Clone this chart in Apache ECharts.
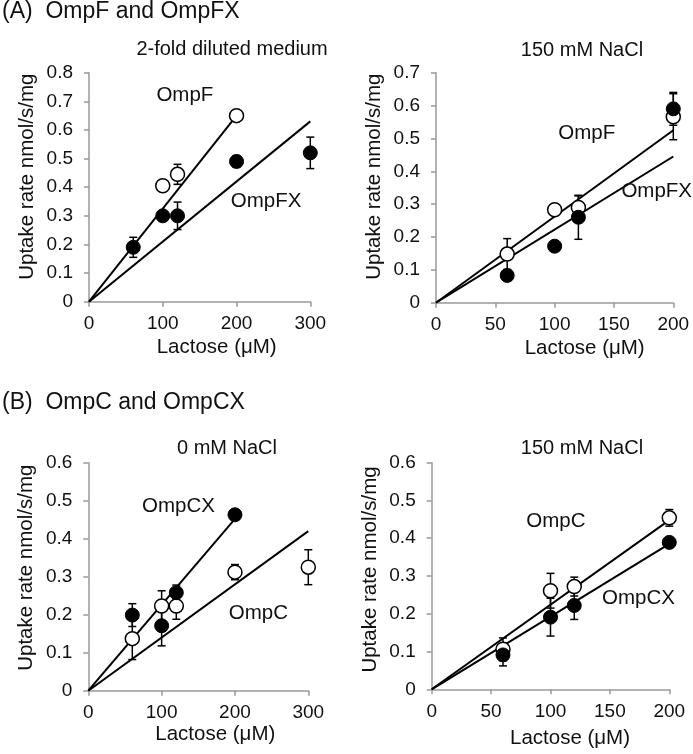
<!DOCTYPE html>
<html>
<head>
<meta charset="utf-8">
<script src="https://cdn.jsdelivr.net/npm/echarts@6/dist/echarts.min.js"></script>
<style>
  html, body { margin: 0; padding: 0; background: #fff; }
  #chart { width: 693px; height: 754px; }
</style>
</head>
<body>
<div id="chart"></div>
<script>
// ---------- DATA ----------
// Panel A1: OmpF and OmpFX, 2-fold diluted medium
const A1_OmpF_x   = [100, 120, 200];
const A1_OmpF_y   = [0.405, 0.445, 0.65];
const A1_OmpF_err = [0, 0.035, 0];
const A1_OmpFX_x   = [60, 100, 120, 200, 300];
const A1_OmpFX_y   = [0.19, 0.30, 0.30, 0.49, 0.52];
const A1_OmpFX_err = [0.035, 0, 0.048, 0.02, 0.055];
const A1_OmpF_fit  = [[0, 0], [200, 0.65]];
const A1_OmpFX_fit = [[0, 0], [300, 0.63]];

// Panel A2: OmpF and OmpFX, 150 mM NaCl
const A2_OmpF_x   = [60, 100, 120, 200];
const A2_OmpF_y   = [0.148, 0.283, 0.29, 0.566];
const A2_OmpF_err = [0.047, 0, 0.035, 0.07];
const A2_OmpFX_x   = [60, 100, 120, 200];
const A2_OmpFX_y   = [0.083, 0.172, 0.26, 0.59];
const A2_OmpFX_err = [0, 0, 0.067, 0.05];
const A2_OmpF_fit  = [[0, 0], [200, 0.525]];
const A2_OmpFX_fit = [[0, 0], [200, 0.445]];

// Panel B1: OmpC and OmpCX, 0 mM NaCl
const B1_OmpC_x   = [60, 100, 120, 200, 300];
const B1_OmpC_y   = [0.137, 0.223, 0.223, 0.312, 0.325];
const B1_OmpC_err = [0.055, 0.04, 0.035, 0.02, 0.046];
const B1_OmpCX_x   = [60, 100, 120, 200];
const B1_OmpCX_y   = [0.199, 0.171, 0.258, 0.463];
const B1_OmpCX_err = [0.03, 0.053, 0.02, 0];
const B1_OmpCX_fit = [[0, 0], [200, 0.452]];
const B1_OmpC_fit  = [[0, 0], [300, 0.42]];

// Panel B2: OmpC and OmpCX, 150 mM NaCl
const B2_OmpC_x   = [60, 100, 120, 200];
const B2_OmpC_y   = [0.106, 0.261, 0.272, 0.454];
const B2_OmpC_err = [0.03, 0.046, 0.025, 0.022];
const B2_OmpCX_x   = [60, 100, 120, 200];
const B2_OmpCX_y   = [0.091, 0.191, 0.222, 0.389];
const B2_OmpCX_err = [0.029, 0.05, 0.037, 0.01];
const B2_OmpC_fit  = [[0, 0], [200, 0.448]];
const B2_OmpCX_fit = [[0, 0], [200, 0.385]];

// Axis ranges / ticks
const xMax = [300, 200, 300, 200];
const xInterval = [100, 50, 100, 50];
const yMax = [0.8, 0.7, 0.6, 0.6];
const yInterval = [0.1, 0.1, 0.1, 0.1];

// Text
const panelTitles = ['(A)  OmpF and OmpFX', '(B)  OmpC and OmpCX'];
const subTitles = ['2-fold diluted medium', '150 mM NaCl', '0 mM NaCl', '150 mM NaCl'];
const xName = 'Lactose (\u03BCM)';
const yName = 'Uptake rate nmol/s/mg';
// curve annotations [text, x, y] in data units
const A1_notes = [['OmpF', 130, 0.72], ['OmpFX', 240, 0.35]];
const A2_notes = [['OmpF', 127, 0.515], ['OmpFX', 186, 0.34]];
const B1_notes = [['OmpCX', 123, 0.484], ['OmpC', 232, 0.204]];
const B2_notes = [['OmpC', 104.6, 0.444], ['OmpCX', 174, 0.241]];

// ---------- BUILD ----------
const FONT = '"Liberation Sans", Arial, sans-serif';
const zip = (xs, ys) => xs.map((x, i) => [x, ys[i]]);
const zipErr = (xs, ys, es) => xs.map((x, i) => [x, ys[i] - es[i], ys[i] + es[i]]).filter((d, i) => es[i] > 0);

const panels = [
  { open: [A1_OmpF_x, A1_OmpF_y, A1_OmpF_err], filled: [A1_OmpFX_x, A1_OmpFX_y, A1_OmpFX_err], fits: [A1_OmpF_fit, A1_OmpFX_fit], notes: A1_notes },
  { open: [A2_OmpF_x, A2_OmpF_y, A2_OmpF_err], filled: [A2_OmpFX_x, A2_OmpFX_y, A2_OmpFX_err], fits: [A2_OmpF_fit, A2_OmpFX_fit], notes: A2_notes },
  { open: [B1_OmpC_x, B1_OmpC_y, B1_OmpC_err], filled: [B1_OmpCX_x, B1_OmpCX_y, B1_OmpCX_err], fits: [B1_OmpCX_fit, B1_OmpC_fit], notes: B1_notes },
  { open: [B2_OmpC_x, B2_OmpC_y, B2_OmpC_err], filled: [B2_OmpCX_x, B2_OmpCX_y, B2_OmpCX_err], fits: [B2_OmpC_fit, B2_OmpCX_fit], notes: B2_notes }
];

const grids = [
  { left: 89, top: 72.7, width: 221.3, height: 229 },
  { left: 436, top: 72.7, width: 237.3, height: 230 },
  { left: 88.3, top: 462.7, width: 220, height: 228 },
  { left: 431.7, top: 462.7, width: 237.6, height: 226.6 }
];
const xNameGap = [35, 35, 31, 39];
const xNamePad = [34, 60, 34, 39];
const yNamePad = [21, 22, 18, 13];

const axisColor = '#999999';
const textColor = '#111111';
const NAME_SIZE = 20.5;

const xAxes = grids.map((g, i) => ({
  type: 'value', gridIndex: i, min: 0, max: xMax[i], interval: xInterval[i],
  splitLine: { show: false },
  axisLine: { show: true, onZero: false, lineStyle: { color: axisColor, width: 1.5 } },
  axisTick: { show: true, inside: false, length: 5, lineStyle: { color: axisColor, width: 1.5 } },
  axisLabel: { color: textColor, fontFamily: FONT, fontSize: 19, margin: 13 },
  name: xName, nameLocation: 'middle', nameGap: xNameGap[i],
  nameTextStyle: { color: textColor, fontFamily: FONT, fontSize: NAME_SIZE, padding: [0, 0, 0, xNamePad[i]] }
}));

const yAxes = grids.map((g, i) => ({
  type: 'value', gridIndex: i, min: 0, max: yMax[i], interval: yInterval[i],
  splitLine: { show: false },
  axisLine: { show: true, onZero: false, lineStyle: { color: axisColor, width: 1.5 } },
  axisTick: { show: true, inside: false, length: 5, lineStyle: { color: axisColor, width: 1.5 } },
  axisLabel: { color: textColor, fontFamily: FONT, fontSize: 19, margin: 16 },
  name: yName, nameLocation: 'middle', nameGap: 51, nameRotate: 90,
  nameTextStyle: { color: textColor, fontFamily: FONT, fontSize: NAME_SIZE, padding: [0, 0, 0, yNamePad[i]] }
}));

function renderErr(params, api) {
  const x = api.value(0), lo = api.value(1), hi = api.value(2);
  const a = api.coord([x, lo]), b = api.coord([x, hi]);
  const w = 4;
  const st = { stroke: '#000', lineWidth: 1.5 };
  return {
    type: 'group',
    children: [
      { type: 'line', shape: { x1: a[0], y1: a[1], x2: b[0], y2: b[1] }, style: st },
      { type: 'line', shape: { x1: a[0] - w, y1: a[1], x2: a[0] + w, y2: a[1] }, style: st },
      { type: 'line', shape: { x1: b[0] - w, y1: b[1], x2: b[0] + w, y2: b[1] }, style: st }
    ]
  };
}

const series = [];
panels.forEach((p, i) => {
  p.fits.forEach(f => series.push({
    type: 'line', xAxisIndex: i, yAxisIndex: i, data: f, symbol: 'none', silent: true,
    lineStyle: { color: '#000', width: 2 }, z: 2
  }));
  [p.open, p.filled].forEach(s => series.push({
    type: 'custom', xAxisIndex: i, yAxisIndex: i, renderItem: renderErr,
    data: zipErr(s[0], s[1], s[2]), encode: { x: 0, y: [1, 2] }, silent: true, z: 3
  }));
  series.push({
    type: 'scatter', xAxisIndex: i, yAxisIndex: i, data: zip(p.open[0], p.open[1]),
    symbol: 'circle', symbolSize: 14, silent: true,
    itemStyle: { color: '#fff', borderColor: '#000', borderWidth: 1.5, opacity: 1 }, z: 4
  });
  series.push({
    type: 'scatter', xAxisIndex: i, yAxisIndex: i, data: zip(p.filled[0], p.filled[1]),
    symbol: 'circle', symbolSize: 14, silent: true,
    itemStyle: { color: '#000', borderColor: '#000', borderWidth: 1, opacity: 1 }, z: 5
  });
  series.push({
    type: 'scatter', xAxisIndex: i, yAxisIndex: i, silent: true, symbolSize: 0,
    itemStyle: { opacity: 1 },
    data: p.notes.map(n => ({ value: [n[1], n[2]], name: n[0] })),
    label: { show: true, position: 'inside', formatter: '{b}', color: textColor, opacity: 1, fontFamily: FONT, fontSize: NAME_SIZE },
    z: 6
  });
});

const subPos = [[232, 49], [582, 50], [227, 448], [582, 448]];
const graphic = subTitles.map((t, i) => ({
  type: 'text', x: subPos[i][0], y: subPos[i][1],
  style: { text: t, fill: textColor, font: '20px ' + FONT, textAlign: 'center', textVerticalAlign: 'middle' }
}));
graphic.push({ type: 'text', x: 2, y: 12, style: { text: panelTitles[0], fill: textColor, font: '23px ' + FONT, textAlign: 'left', textVerticalAlign: 'middle' } });
graphic.push({ type: 'text', x: 2, y: 403, style: { text: panelTitles[1], fill: textColor, font: '23px ' + FONT, textAlign: 'left', textVerticalAlign: 'middle' } });

const chart = echarts.init(document.getElementById('chart'), null, { renderer: 'canvas' });
chart.setOption({
  animation: false,
  backgroundColor: '#fff',
  grid: grids,
  xAxis: xAxes,
  yAxis: yAxes,
  series: series,
  graphic: graphic
});
</script>
</body>
</html>
